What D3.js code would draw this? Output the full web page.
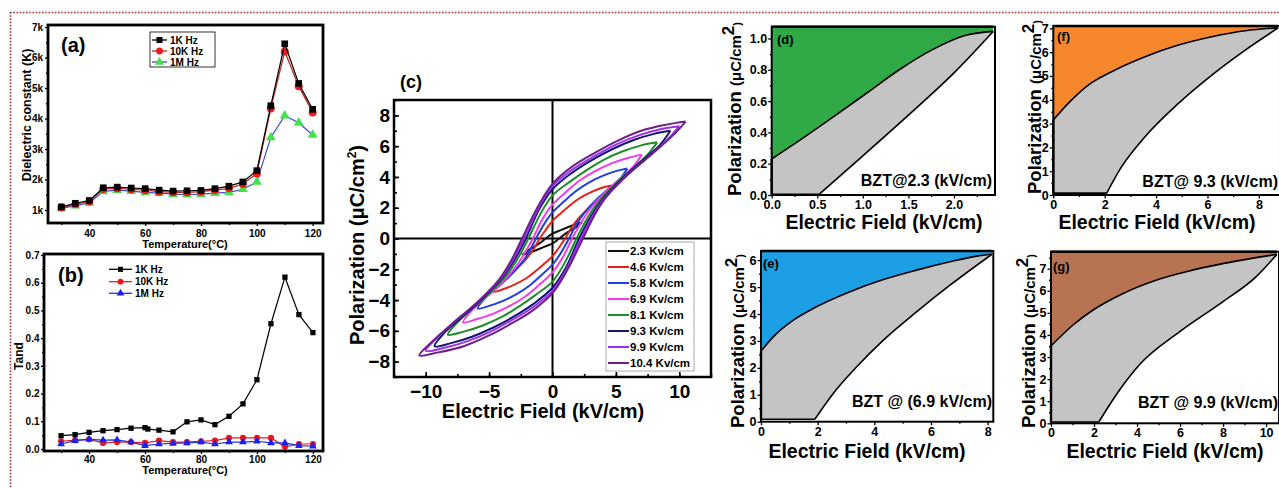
<!DOCTYPE html>
<html>
<head>
<meta charset="utf-8">
<script src="https://cdn.jsdelivr.net/npm/d3@7"></script>
<style>
  body { margin: 0; background: #fff; }
  svg { display: block; font-family: "Liberation Sans", Arial, sans-serif; }
</style>
</head>
<body>
<svg id="fig" width="1279" height="488"></svg>
<script>
// ---------- data ----------

// (a) dielectric constant vs temperature
const tempA = [30, 35, 40, 45, 50, 55, 60, 65, 70, 75, 80, 85, 90, 95, 100, 105, 110, 115, 120];
const diel1k = [1100, 1220, 1310, 1730, 1750, 1720, 1700, 1650, 1620, 1630, 1640, 1700, 1780, 1920, 2290, 4420, 6450, 5150, 4300];
const diel10k = [1080, 1190, 1280, 1690, 1710, 1680, 1650, 1600, 1580, 1580, 1600, 1650, 1710, 1850, 2200, 4330, 6200, 5060, 4200];
const diel1m = [1050, 1140, 1230, 1610, 1650, 1620, 1580, 1550, 1520, 1500, 1520, 1550, 1580, 1680, 1920, 3380, 4090, 3860, 3460];
const dielTicks = [1000, 2000, 3000, 4000, 5000, 6000, 7000];
const tempTicks = [40, 60, 80, 100, 120];

// (b) loss tangent vs temperature
const tempB1k = [30, 35, 40, 45, 50, 55, 60, 61, 65, 70, 75, 80, 85, 90, 95, 100, 105, 110, 115, 120];
const tan1k = [0.048, 0.052, 0.060, 0.066, 0.070, 0.075, 0.077, 0.072, 0.068, 0.062, 0.098, 0.105, 0.088, 0.118, 0.163, 0.250, 0.452, 0.620, 0.485, 0.420];
const tan10k = [0.028, 0.032, 0.035, 0.022, 0.025, 0.025, 0.022, 0.030, 0.025, 0.025, 0.028, 0.030, 0.040, 0.040, 0.040, 0.040, 0.008, 0.018, 0.018];
const tan1m = [0.018, 0.030, 0.035, 0.032, 0.033, 0.025, 0.012, 0.018, 0.020, 0.022, 0.025, 0.018, 0.025, 0.025, 0.028, 0.022, 0.022, 0.012, 0.010];
const tanTicks = [0, 0.1, 0.2, 0.3, 0.4, 0.5, 0.6, 0.7];
const freqNames = ['1K Hz', '10K Hz', '1M Hz'];

// (c) P-E loops, upper branch (E kV/cm, P uC/cm2) from +Emax to -Emax
const loop23 = [[2.35, 1.05], [1.9, 0.95], [1.3, 0.76], [0.7, 0.56], [0, 0.32], [-0.5, 0.02], [-1.0, -0.3], [-1.5, -0.56], [-2.0, -0.82], [-2.35, -1.05]];
const loop46 = [[4.65, 3.45], [3.9, 3.3], [3.0, 3.0], [2.1, 2.6], [1.3, 2.1], [0.6, 1.6], [0, 1.15], [-0.5, 0.6], [-1.0, 0], [-1.5, -0.7], [-2.0, -1.25], [-2.8, -1.95], [-3.6, -2.55], [-4.2, -2.95], [-4.65, -3.45]];
const loop58 = [[5.9, 4.55], [5.0, 4.38], [3.9, 4.05], [2.8, 3.6], [1.8, 3.05], [0.9, 2.4], [0, 1.7], [-0.65, 0.95], [-1.3, 0], [-1.9, -0.95], [-2.5, -1.65], [-3.5, -2.55], [-4.6, -3.35], [-5.35, -3.9], [-5.9, -4.55]];
const loop69 = [[7.05, 5.45], [6.0, 5.25], [4.7, 4.9], [3.4, 4.4], [2.2, 3.8], [1.1, 3.05], [0, 2.2], [-0.8, 1.25], [-1.55, 0], [-2.3, -1.1], [-3.0, -1.95], [-4.2, -3.05], [-5.5, -4.0], [-6.4, -4.7], [-7.05, -5.45]];
const loop81 = [[8.25, 6.25], [7.0, 6.05], [5.5, 5.65], [4.0, 5.1], [2.6, 4.4], [1.3, 3.65], [0, 2.8], [-0.95, 1.6], [-1.9, 0], [-2.7, -1.25], [-3.5, -2.25], [-4.9, -3.5], [-6.4, -4.6], [-7.5, -5.45], [-8.25, -6.25]];
const loop93 = [[9.3, 7.0], [8.0, 6.8], [6.4, 6.4], [4.7, 5.8], [3.1, 5.1], [1.5, 4.25], [0, 3.2], [-1.05, 1.9], [-2.1, 0], [-3.0, -1.4], [-3.9, -2.5], [-5.5, -3.9], [-7.2, -5.15], [-8.5, -6.1], [-9.3, -7.0]];
const loop99 = [[10.0, 7.3], [8.5, 7.1], [6.8, 6.7], [5.0, 6.1], [3.3, 5.35], [1.6, 4.5], [0, 3.4], [-1.1, 2.0], [-2.25, 0], [-3.2, -1.5], [-4.1, -2.6], [-5.8, -4.05], [-7.7, -5.4], [-9.1, -6.45], [-10.0, -7.3]];
const loop104 = [[10.5, 7.6], [9.0, 7.4], [7.0, 7.0], [5.0, 6.3], [3.3, 5.55], [1.6, 4.7], [0, 3.55], [-1.2, 2.0], [-2.4, 0], [-3.3, -1.5], [-4.2, -2.65], [-6.0, -4.2], [-8.0, -5.6], [-9.5, -6.7], [-10.5, -7.6]];
const loopUpper = [loop23, loop46, loop58, loop69, loop81, loop93, loop99, loop104];
const loopNames = ['2.3 Kv/cm', '4.6 Kv/cm', '5.8 Kv/cm', '6.9 Kv/cm', '8.1 Kv/cm', '9.3 Kv/cm', '9.9 Kv/cm', '10.4 Kv/cm'];
const loopColors = ['#111111', '#e2231a', '#1f3fe0', '#ee3ce8', '#1e8c2a', '#14147a', '#9a32e8', '#6e1f8a'];
const fieldTicks = [-10, -5, 0, 5, 10];
const polTicks = [-8, -6, -4, -2, 0, 2, 4, 6, 8];

// (d)-(g) first-quadrant branches: discharge (upper) and charge (lower)
const dUpper = [[0, 0.23], [0.31, 0.35], [0.68, 0.5], [1.04, 0.65], [1.4, 0.8], [1.77, 0.93], [2.13, 1.02], [2.43, 1.045]];
const dLower = [[0.52, 0.004], [1.0, 0.25], [1.5, 0.51], [2.0, 0.78], [2.43, 1.045]];
const fUpper = [[0, 3.15], [0.58, 3.85], [1.36, 4.62], [2.27, 5.18], [3.57, 5.81], [4.87, 6.3], [6.17, 6.65], [7.47, 6.9], [8.75, 7.02]];
const fLower = [[2.08, 0.08], [2.66, 1.19], [3.57, 2.45], [4.87, 3.85], [6.17, 5.04], [7.47, 6.09], [8.75, 7.02]];
const eUpper = [[0, 2.62], [0.44, 3.16], [1.14, 3.77], [1.96, 4.27], [3.14, 4.83], [4.32, 5.28], [5.49, 5.63], [6.67, 5.94], [7.61, 6.15], [8.15, 6.22]];
const eLower = [[1.9, 0.09], [2.55, 1.05], [3.38, 2.04], [4.32, 3.03], [5.49, 4.08], [6.67, 5.07], [8.15, 6.22]];
const gUpper = [[0, 3.5], [1.01, 4.44], [1.94, 5.12], [3.33, 5.87], [4.88, 6.48], [6.43, 6.9], [7.98, 7.23], [9.53, 7.5], [10.5, 7.65]];
const gLower = [[2.22, 0.06], [3.18, 1.5], [4.1, 2.64], [5.97, 4.14], [7.98, 5.5], [9.53, 6.63], [10.5, 7.65]];

// ---------- helpers ----------
const FONT = '"Liberation Sans", Arial, sans-serif';
const svg = d3.select('#fig');

function drawTicks(g, x, y, o) {
  const bottom = y.range()[0];
  const left = x.range()[0];
  const s = o.inward ? -1 : 1;
  g.append('g').attr('transform', `translate(0,${bottom})`)
    .call(d3.axisBottom(x).tickValues(o.xMajor).tickFormat(o.fmtX).tickSize(s * o.major).tickPadding(o.padX));
  g.append('g').attr('transform', `translate(0,${bottom})`)
    .call(d3.axisBottom(x).tickValues(o.xMinor).tickFormat('').tickSize(s * o.minor));
  g.append('g').attr('transform', `translate(${left},0)`)
    .call(d3.axisLeft(y).tickValues(o.yMajor).tickFormat(o.fmtY).tickSize(s * o.major).tickPadding(o.padY));
  g.append('g').attr('transform', `translate(${left},0)`)
    .call(d3.axisLeft(y).tickValues(o.yMinor).tickFormat('').tickSize(s * o.minor));
  g.selectAll('.domain').remove();
  g.selectAll('.tick line').attr('stroke', '#000').attr('stroke-width', o.tw || 1.3);
  g.selectAll('.tick text')
    .attr('font-size', o.fontSize).attr('font-weight', 'bold')
    .attr('font-family', FONT).attr('fill', '#000');
}

function frame(g, x, y, w) {
  g.append('rect')
    .attr('x', x.range()[0]).attr('y', y.range()[1])
    .attr('width', x.range()[1] - x.range()[0])
    .attr('height', y.range()[0] - y.range()[1])
    .attr('fill', 'none').attr('stroke', '#000').attr('stroke-width', w);
}

function label(g, txt, x, y, size, anchor, rotate) {
  const t = g.append('text')
    .attr('font-size', size).attr('font-weight', 'bold')
    .attr('text-anchor', anchor || 'start').text(txt);
  if (rotate) t.attr('transform', `translate(${x},${y}) rotate(-90)`);
  else t.attr('x', x).attr('y', y);
  return t;
}

function range(a, b, step) {
  // minor tick positions only
  return d3.range(a, b + step / 2, step);
}

function drawSeries(g, x, y, xs, ys, lineColor, fill, shape, size) {
  const pts = xs.map((t, i) => [t, ys[i]]);
  g.append('path').datum(pts)
    .attr('d', d3.line().x((d) => x(d[0])).y((d) => y(d[1])))
    .attr('fill', 'none').attr('stroke', lineColor).attr('stroke-width', 1.2);
  g.selectAll(null).data(pts).enter().append('path')
    .attr('transform', (d) => `translate(${x(d[0])},${y(d[1])})`)
    .attr('d', d3.symbol().type(shape).size(size))
    .attr('fill', fill);
}

// ---------- (a) ----------
function makeChartA() {
  const g = svg.append('g');
  const x = d3.scaleLinear().domain([25.2, 123.7]).range([48, 323]);
  const y = d3.scaleLinear().domain([573, 7066]).range([223, 25]);

  drawSeries(g, x, y, tempA, diel1m, '#3a4bd0', '#45e04a', d3.symbolTriangle, 42);
  drawSeries(g, x, y, tempA, diel10k, '#b8261e', '#ee1c1c', d3.symbolCircle, 50);
  drawSeries(g, x, y, tempA, diel1k, '#000', '#000', d3.symbolSquare, 44);

  frame(g, x, y, 2.8);
  drawTicks(g, x, y, {
    xMajor: tempTicks, xMinor: range(30, 110, 20), fmtX: d3.format('d'), padX: 3.5,
    yMajor: dielTicks, yMinor: range(1500, 6500, 1000), fmtY: (d) => d / 1000 + 'k', padY: 2,
    major: 3, minor: 2, fontSize: 10
  });

  // legend
  g.append('rect').attr('x', 150).attr('y', 32).attr('width', 65).attr('height', 35)
    .attr('fill', 'none').attr('stroke', '#000').attr('stroke-width', 0.8);
  const lc = ['#000', '#b8261e', '#3a4bd0'];
  const mf = ['#000', '#ee1c1c', '#45e04a'];
  const sh = [d3.symbolSquare, d3.symbolCircle, d3.symbolTriangle];
  freqNames.forEach((n, i) => {
    const yy = 40 + i * 11;
    g.append('line').attr('x1', 152).attr('x2', 167).attr('y1', yy).attr('y2', yy)
      .attr('stroke', lc[i]).attr('stroke-width', 1.3);
    g.append('path').attr('transform', `translate(159.5,${yy})`)
      .attr('d', d3.symbol().type(sh[i]).size(36)).attr('fill', mf[i]);
    label(g, n, 170, yy + 3.5, 10);
  });

  label(g, '(a)', 61, 52, 20);
  label(g, 'Dielectric constant (K)', 31, 115, 12.5, 'middle', true);
  label(g, 'Temperature(°C)', 185, 248, 11, 'middle');
}

// ---------- (b) ----------
function makeChartB() {
  const g = svg.append('g');
  const x = d3.scaleLinear().domain([23.9, 123.6]).range([44, 323]);
  const y = d3.scaleLinear().domain([-0.0072, 0.7036]).range([451, 254]);

  drawSeries(g, x, y, tempA, tan10k, '#e02020', '#e81818', d3.symbolCircle, 30);
  drawSeries(g, x, y, tempA, tan1m, '#2030e0', '#1a22f0', d3.symbolTriangle, 26);
  drawSeries(g, x, y, tempB1k, tan1k, '#000', '#000', d3.symbolSquare, 28);

  frame(g, x, y, 2.8);
  drawTicks(g, x, y, {
    xMajor: tempTicks, xMinor: range(30, 110, 20), fmtX: d3.format('d'), padX: 2,
    yMajor: tanTicks, yMinor: range(0.05, 0.65, 0.1), fmtY: d3.format('.1f'), padY: 1.5,
    major: 3, minor: 2, fontSize: 10
  });

  const lc = ['#000', '#e02020', '#2030e0'];
  const mf = ['#000', '#e81818', '#1a22f0'];
  const sh = [d3.symbolSquare, d3.symbolCircle, d3.symbolTriangle];
  const rows = [269.3, 281.7, 293.3];
  freqNames.forEach((n, i) => {
    g.append('line').attr('x1', 109).attr('x2', 132).attr('y1', rows[i]).attr('y2', rows[i])
      .attr('stroke', lc[i]).attr('stroke-width', 1.3);
    g.append('path').attr('transform', `translate(120.5,${rows[i]})`)
      .attr('d', d3.symbol().type(sh[i]).size(26)).attr('fill', mf[i]);
    label(g, n, 135, rows[i] + 3.5, 10);
  });

  label(g, '(b)', 58, 282, 20);
  label(g, 'Tand', 23, 356, 12, 'middle', true);
  label(g, 'Temperature(°C)', 185, 474, 11, 'middle');
}

// ---------- (c) ----------
function makeChartC() {
  const g = svg.append('g');
  const x = d3.scaleLinear().domain([-12.5, 12.5]).range([394, 711]);
  const y = d3.scaleLinear().domain([-9, 9]).range([377, 100]);

  // zero lines
  g.append('line').attr('x1', x(0)).attr('x2', x(0)).attr('y1', 100).attr('y2', 377)
    .attr('stroke', '#000').attr('stroke-width', 2);
  g.append('line').attr('x1', 394).attr('x2', 711).attr('y1', y(0)).attr('y2', y(0))
    .attr('stroke', '#000').attr('stroke-width', 2);

  // each loop is point-symmetric: lower branch is the reflection of the read upper branch
  const line = d3.line().x((d) => x(d[0])).y((d) => y(d[1])).curve(d3.curveCatmullRom);
  loopUpper.forEach((up, i) => {
    const low = up.map((d) => [-d[0], -d[1]]);
    const pts = up.concat(low.slice(1));
    g.append('path').datum(pts).attr('d', line)
      .attr('fill', 'none').attr('stroke', loopColors[i]).attr('stroke-width', 2);
  });

  frame(g, x, y, 2.5);
  drawTicks(g, x, y, {
    xMajor: fieldTicks, xMinor: range(-12.5, 12.5, 2.5), fmtX: d3.format('d'), padX: 7.5,
    yMajor: polTicks, yMinor: range(-9, 9, 1), fmtY: d3.format('d'), padY: 4,
    major: 5, minor: 3, fontSize: 19, inward: true, tw: 1.6
  });

  // legend
  g.append('rect').attr('x', 606).attr('y', 242).attr('width', 88).attr('height', 129)
    .attr('fill', '#fff').attr('stroke', '#aaa').attr('stroke-width', 1);
  loopNames.forEach((n, i) => {
    const yy = 251 + i * 16;
    g.append('line').attr('x1', 608).attr('x2', 629).attr('y1', yy).attr('y2', yy)
      .attr('stroke', loopColors[i]).attr('stroke-width', 2);
    label(g, n, 630, yy + 4, 11.5);
  });

  label(g, '(c)', 400, 88, 18);
  const t = label(g, 'Polarization (μC/cm', 364, 245, 20, 'middle', true);
  t.append('tspan').attr('dy', -8).attr('font-size', 12).text('2');
  t.append('tspan').attr('dy', 8).text(')');
  label(g, 'Electric Field (kV/cm)', 543, 418, 20, 'middle');
}

// ---------- (d)-(g) ----------
function makeEnergy(c) {
  const g = svg.append('g');
  const x = d3.scaleLinear().domain(c.xDomain).range([c.left, c.right]);
  const y = d3.scaleLinear().domain(c.yDomain).range([c.bottom, c.top]);
  const yTop = c.yDomain[1];
  const base = c.lower[0][1];
  const tip = c.upper[c.upper.length - 1];
  const cv = d3.curveMonotoneX;

  g.append('path').datum(c.upper.concat([[tip[0], yTop]]))
    .attr('d', d3.area().x((d) => x(d[0])).y0(y(yTop)).y1((d) => y(d[1])).curve(cv))
    .attr('fill', c.fill);
  g.append('path').datum(c.upper)
    .attr('d', d3.area().x((d) => x(d[0])).y0(y(base)).y1((d) => y(d[1])).curve(cv))
    .attr('fill', '#c4c4c4');
  g.append('path').datum(c.lower)
    .attr('d', d3.area().x((d) => x(d[0])).y0(y(0)).y1((d) => y(d[1])).curve(cv))
    .attr('fill', '#fff');

  const ln = d3.line().x((d) => x(d[0])).y((d) => y(d[1])).curve(cv);
  const stroke = (pts, w) => g.append('path').datum(pts).attr('d', ln)
    .attr('fill', 'none').attr('stroke', '#000').attr('stroke-width', w);
  stroke(c.upper, 1.6);
  stroke(c.lower, 1.6);
  stroke([[0, base], [c.lower[0][0], base]], 1.6);
  stroke([[0, base], [0, c.upper[0][1]]], 2.4);
  stroke([[0, yTop], [tip[0], yTop]], 2.6);

  frame(g, x, y, 2);
  drawTicks(g, x, y, {
    xMajor: c.xMajor, xMinor: c.xMinor, fmtX: c.fmtX, padX: c.padX,
    yMajor: c.yMajor, yMinor: c.yMinor, fmtY: c.fmtY, padY: 1,
    major: 3.5, minor: 2, fontSize: 12.5
  });

  label(g, c.tag, c.tagX, c.tagY, 13);
  label(g, c.note, c.noteX, c.noteY, 16, 'end');
  label(g, 'Electric Field (kV/cm)', c.xtX, c.xtY, 19.5, 'middle');
  const t = label(g, 'Polarization ', c.ytX, c.ytY, 18.5, 'middle', true);
  t.append('tspan').attr('font-size', 15).text('(μC/cm');
  t.append('tspan').attr('dy', -7).attr('font-size', 17).text('2');
  t.append('tspan').attr('dy', 7).attr('font-size', 11).text(')');
}

window.onload = function () {
  // dotted border
  svg.append('line').attr('x1', 10).attr('x2', 1279).attr('y1', 12.5).attr('y2', 12.5)
    .attr('stroke', '#b02a2a').attr('stroke-width', 1.6).attr('stroke-dasharray', '1.6,1.6');
  svg.append('line').attr('x1', 10.5).attr('x2', 10.5).attr('y1', 12).attr('y2', 488)
    .attr('stroke', '#b02a2a').attr('stroke-width', 1.6).attr('stroke-dasharray', '1.6,1.6');

  makeChartA();
  makeChartB();
  makeChartC();

  makeEnergy({
    upper: dUpper, lower: dLower, fill: '#2faa47',
    xDomain: [0, 2.45], yDomain: [0, 1.075], left: 771.7, right: 995, top: 26.7, bottom: 195,
    xMajor: [0, 0.5, 1, 1.5, 2], xMinor: range(0.25, 2.25, 0.5), fmtX: d3.format('.1f'), padX: 1.5,
    yMajor: [0, 0.2, 0.4, 0.6, 0.8, 1.0], yMinor: range(0.1, 0.9, 0.2), fmtY: d3.format('.1f'),
    tag: '(d)', tagX: 777, tagY: 44, note: 'BZT@2.3 (kV/cm)', noteX: 992, noteY: 186,
    xtX: 884, xtY: 229, ytX: 741, ytY: 109
  });
  makeEnergy({
    upper: fUpper, lower: fLower, fill: '#f7872d',
    xDomain: [0, 8.85], yDomain: [0, 7.1], left: 1053.3, right: 1280.7, top: 26, bottom: 195,
    xMajor: [0, 2, 4, 6, 8], xMinor: range(1, 7, 2), fmtX: d3.format('d'), padX: 1.5,
    yMajor: [0, 1, 2, 3, 4, 5, 6, 7], yMinor: range(0.5, 6.5, 1), fmtY: d3.format('d'),
    tag: '(f)', tagX: 1057, tagY: 41, note: 'BZT@ 9.3 (kV/cm)', noteX: 1278, noteY: 187,
    xtX: 1157, xtY: 229, ytX: 1041, ytY: 107
  });
  makeEnergy({
    upper: eUpper, lower: eLower, fill: '#1c9fe4',
    xDomain: [0, 8.2], yDomain: [0, 6.34], left: 761, right: 993.3, top: 251, bottom: 421.7,
    xMajor: [0, 2, 4, 6, 8], xMinor: range(1, 7, 2), fmtX: d3.format('d'), padX: 1.5,
    yMajor: [0, 1, 2, 3, 4, 5, 6], yMinor: range(0.5, 5.5, 1), fmtY: d3.format('d'),
    tag: '(e)', tagX: 763, tagY: 268, note: 'BZT @ (6.9 kV/cm)', noteX: 992, noteY: 407,
    xtX: 867, xtY: 458, ytX: 744, ytY: 341
  });
  makeEnergy({
    upper: gUpper, lower: gLower, fill: '#b87452',
    xDomain: [0, 10.6], yDomain: [0, 7.77], left: 1051, right: 1279, top: 251.7, bottom: 423.3,
    xMajor: [0, 2, 4, 6, 8, 10], xMinor: range(1, 9, 2), fmtX: d3.format('d'), padX: 1.5,
    yMajor: [0, 1, 2, 3, 4, 5, 6, 7], yMinor: range(0.5, 7.5, 1), fmtY: d3.format('d'),
    tag: '(g)', tagX: 1053, tagY: 271, note: 'BZT @ 9.9 (kV/cm)', noteX: 1278, noteY: 408,
    xtX: 1165, xtY: 458, ytX: 1035, ytY: 341
  });
};
</script>
</body>
</html>
